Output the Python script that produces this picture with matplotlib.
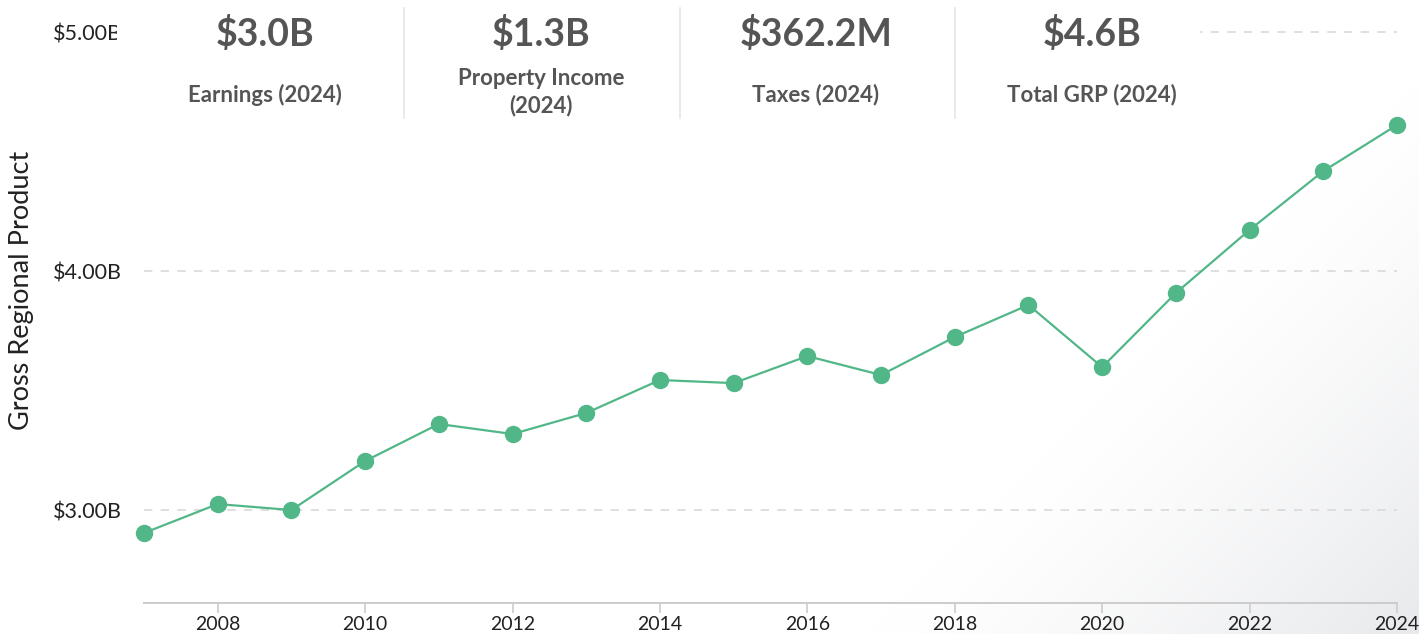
import numpy as np
import matplotlib
matplotlib.use("Agg")
import matplotlib.pyplot as plt
from matplotlib.patches import Rectangle

plt.rcParams['font.family'] = ['Lato', 'DejaVu Sans']

years = list(range(2007, 2025))
grp = [2.904, 3.025, 3.000, 3.205, 3.360, 3.318, 3.406, 3.544, 3.531,
       3.644, 3.565, 3.724, 3.858, 3.598, 3.908, 4.172, 4.418, 4.611]

stat_values = ['$3.0B', '$1.3B', '$362.2M', '$4.6B']
stat_labels = ['Earnings (2024)', 'Property Income\n(2024)', 'Taxes (2024)', 'Total GRP (2024)']

W, H = 1419, 634
fig = plt.figure(figsize=(W / 100, H / 100), dpi=100)

# soft grey shading toward the lower right corner
bg = fig.add_axes([0, 0, 1, 1], zorder=-10)
bg.axis('off')
px, py = np.meshgrid(np.arange(0, W, 3), np.arange(0, H, 3))
t = np.clip((px + py - 1500) / 550, 0, 1) ** 1.3
rgb = np.ones(px.shape + (3,))
rgb[..., 0] -= 0.09 * t
rgb[..., 1] -= 0.085 * t
rgb[..., 2] -= 0.075 * t
bg.imshow(rgb, extent=[0, 1, 0, 1], aspect='auto', origin='upper', interpolation='bilinear')
bg.set_xlim(0, 1)
bg.set_ylim(0, 1)

ax = fig.add_axes([144 / W, (H - 603) / H, (1397 - 144) / W, 603 / H])
ax.patch.set_alpha(0)
ax.set_axisbelow(True)

green = '#52b788'
ax.plot(years, grp, color=green, lw=1.6, marker='o', ms=11.5, clip_on=False, zorder=3)

ax.set_xlim(2007, 2024)
ax.set_ylim(2.611, 5.134)
ax.set_xticks(range(2008, 2025, 2))
ax.set_yticks([3, 4, 5])
ax.set_yticklabels(['$3.00B', '$4.00B', '$5.00B'])
ax.yaxis.grid(True, color='#d9d9d9', ls=(0, (5, 5)), lw=1.2)

for s in ['top', 'right', 'left']:
    ax.spines[s].set_visible(False)
ax.spines['bottom'].set_color('#cccccc')
ax.spines['bottom'].set_linewidth(1.4)
ax.tick_params(axis='x', length=7, width=1.2, color='#cccccc', labelsize=14, labelcolor='#222222', pad=2)
ax.tick_params(axis='y', length=0, labelsize=15.5, labelcolor='#222222', pad=16)

fig.text(22 / W, 1 - 290 / H, 'Gross Regional Product', rotation=90, ha='center', va='center',
         fontsize=19.5, color='#222222')

# summary panel on top (it hides the top grid line and part of the $5.00B label)
ax.add_patch(Rectangle((117 / W, 1 - 125 / H), (1200 - 117) / W, 125 / H, transform=fig.transFigure,
                       facecolor='white', edgecolor='none', zorder=1, clip_on=False))

centers = [265, 541, 816, 1092]
for cx, v, lab in zip(centers, stat_values, stat_labels):
    fig.text(cx / W, 1 - 34 / H, v, ha='center', va='center', fontsize=27, fontweight='bold', color='#555555')
    yl = 92 if '\n' in lab else 95
    fig.text(cx / W, 1 - yl / H, lab, ha='center', va='center', fontsize=16, fontweight='bold',
             color='#555555', linespacing=1.3)
for sx in [404, 680, 955]:
    fig.add_artist(plt.Line2D([sx / W, sx / W], [1 - 8 / H, 1 - 118 / H], color='#e6e6e6', lw=1.2))

fig.savefig('out.png', dpi=100)
